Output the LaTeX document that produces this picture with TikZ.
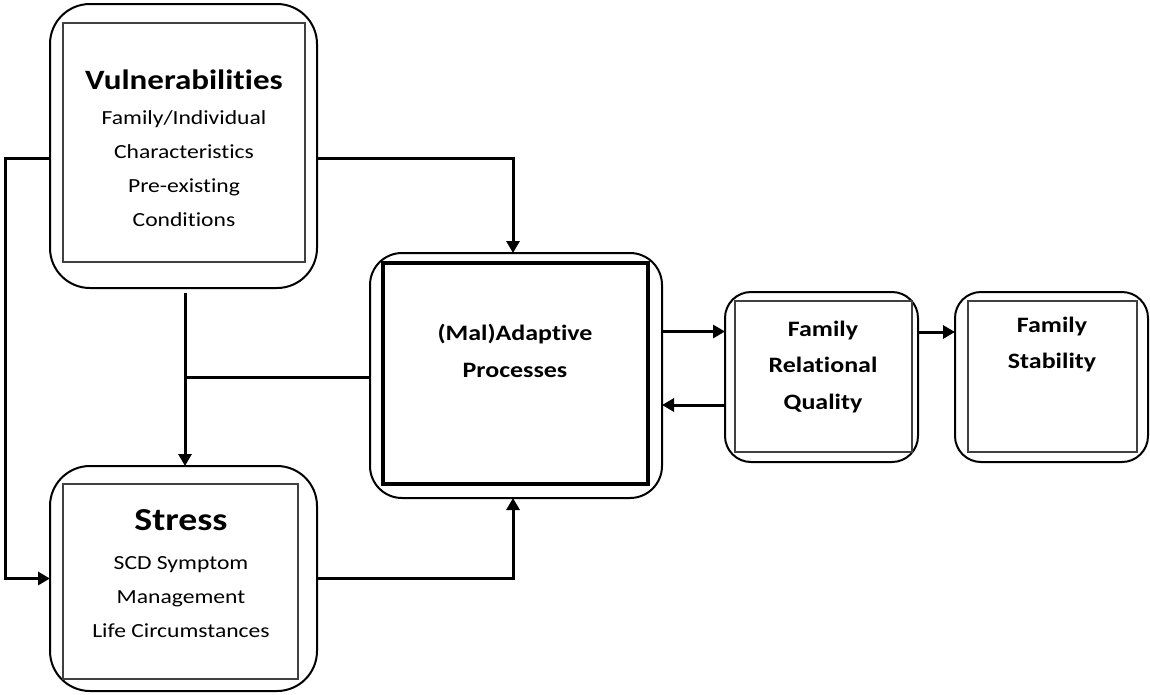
\documentclass[tikz,border=0pt]{standalone}
\usepackage{fontspec}
\setmainfont{Carlito}[FakeStretch=1.18,Ligatures={NoCommon}]
\usetikzlibrary{arrows.meta,calc}
\begin{document}
\begin{tikzpicture}[x=1pt,y=-1pt,
  outerbox/.style={draw,line width=2pt,inner sep=0pt,outer sep=0pt},
  innerbox/.style={draw=black!75,line width=1.8pt},
  malinner/.style={draw=black,line width=3.2pt},
  conn/.style={line width=3pt},
  arr/.style={conn,-{Triangle[length=12pt,width=13pt]}},
  bigtitle/.style={font=\bfseries\fontsize{28}{34}\selectfont,inner sep=0pt},
  body/.style={font=\fontsize{20}{34}\selectfont,align=center,inner sep=0pt},
  boldbody/.style={font=\bfseries\fontsize{22}{36.5}\selectfont,align=center,inner sep=0pt}]
\useasboundingbox (0,0) rectangle (1150,694);

% boxes
\node[outerbox,rounded corners=40pt,minimum width=267pt,minimum height=284pt] (vul) at (183.5,146) {};
\draw[innerbox] (63,23) rectangle (305,262);
\node[outerbox,rounded corners=40pt,minimum width=267pt,minimum height=225pt] (str) at (183.5,578.5) {};
\draw[innerbox] (63,484) rectangle (298,679);
\node[outerbox,rounded corners=32pt,minimum width=292pt,minimum height=245pt] (mal) at (516,375.5) {};
\draw[malinner] (383,263) rectangle (648,484);
\node[outerbox,rounded corners=26pt,minimum width=193pt,minimum height=170pt] (frq) at (821.5,377) {};
\draw[innerbox] (735,301) rectangle (912,452);
\node[outerbox,rounded corners=26pt,minimum width=193pt,minimum height=170pt] (fs) at (1051.5,377) {};
\draw[innerbox] (968,301) rectangle (1137,452);

% texts
\node[bigtitle] (vult) at (184,80) {Vulnerabilities};
\node[body] (vulb) at (184,169) {Family/Individual\\Characteristics\\Pre-existing\\Conditions};
\node[bigtitle,font=\bfseries\fontsize{32}{34}\selectfont] (strt) at (181,520) {Stress};
\node[body] (strb) at (181,597) {SCD Symptom\\Management\\Life Circumstances};
\node[boldbody,font=\bfseries\fontsize{22}{37}\selectfont] (malt) at (515,351) {(Mal)Adaptive\\Processes};
\node[boldbody] (frqt) at (823,367) {Family\\Relational\\Quality};
\node[boldbody,font=\bfseries\fontsize{22}{36}\selectfont] (fst) at (1052,345) {Family\\Stability};

% connectors
\coordinate (L) at (5,158);
\draw[arr] ([yshift=-12pt]vul.west) -- (L) |- (str.west);
\draw[arr] ([yshift=-12pt]vul.east) -| ([xshift=-3pt]mal.north);
\draw[arr] ([xshift=1.5pt,yshift=-5pt]vul.south) -- ([xshift=1.5pt]str.north);
\draw[conn] ([yshift=-1.5pt]mal.west) -- ([xshift=1.5pt,yshift=-1.5pt]mal.west -| str.north);
\draw[arr] (str.east) -| ([xshift=-3pt]mal.south);
\draw[arr] ([yshift=44pt]mal.east) -- ([yshift=44pt]mal.east -| frq.west);
\draw[arr] ([yshift=-28pt]frq.west) -- ([yshift=-28pt]frq.west -| mal.east);
\draw[arr] ([yshift=45pt]frq.east) -- ([yshift=45pt]fs.west);
\end{tikzpicture}
\end{document}
